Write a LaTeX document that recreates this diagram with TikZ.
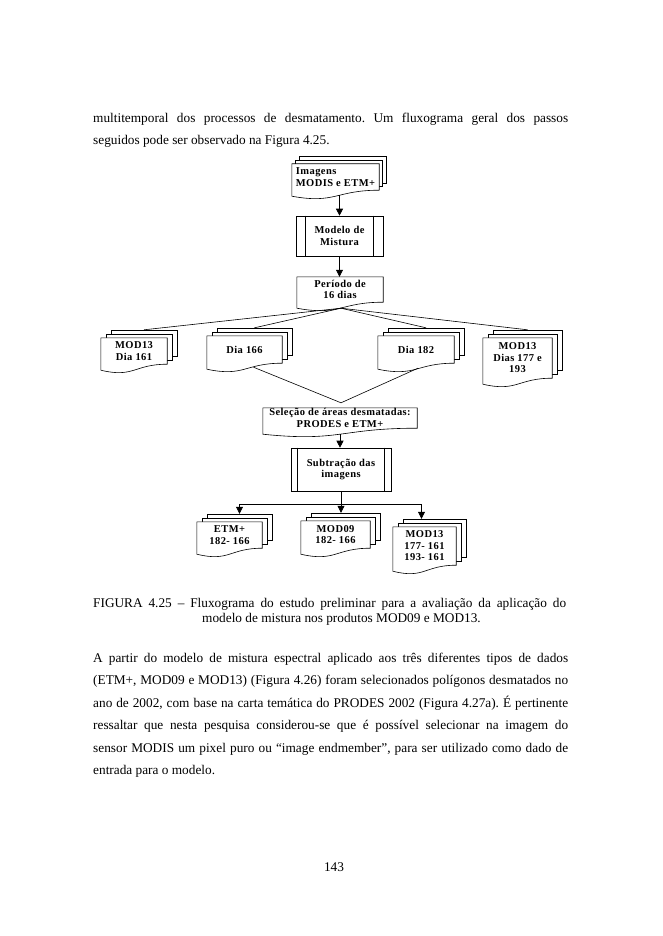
\documentclass[tikz,border=0pt]{standalone}
\usepackage{fontspec}
\setmainfont{Liberation Serif}
\newfontfamily\boxfont[LetterSpace=4]{Liberation Serif}
\usetikzlibrary{arrows.meta,calc,backgrounds}
\frenchspacing

\tikzset{
  docline/.style={draw=black, fill=white, line width=0.6pt},
  boxtext/.style={font=\boxfont\bfseries\fontsize{10.5}{11.5}\selectfont, align=center, inner sep=0pt},
  procbox/.style={boxtext, draw, line width=0.6pt},
  bodyline/.style={anchor=base west, inner sep=0pt, font=\fontsize{13.3}{15}\selectfont},
  conn/.style={line width=0.6pt},
}

% documento com base ondulada
\newcommand{\docfront}[1]{%
  \draw[docline] (#1.north west) -- (#1.north east) -- (#1.south east)
    .. controls (#1.south) and ($(#1.south)+(0,14)$) .. ($(#1.south west)+(0,6)$) -- cycle;}
% folhas de tras
\newcommand{\docback}[3]{%
  \draw[docline] ($(#1.north west)+(#2,-#3)$) rectangle ($(#1.south east)+(#2,-#3)$);}
\newcommand{\multidoc}[3]{%
  \docback{#1}{2*#2}{2*#3}
  \docback{#1}{#2}{#3}
  \docfront{#1}
  \coordinate (#1-top) at ($(#1.north)+(2*#2,-2*#3)$);}
% linhas laterais do processo
\newcommand{\procsides}[2]{%
  \draw[conn] ([xshift=#2]#1.north west) -- ([xshift=#2]#1.south west);
  \draw[conn] ([xshift=-#2]#1.north east) -- ([xshift=-#2]#1.south east);}

\begin{document}
\begin{tikzpicture}[x=1pt, y=-1pt, >={Triangle[width=7pt,length=7pt]}]
  \useasboundingbox (0,0) rectangle (662,936);

  % texto antes da figura
  \node[bodyline] (p1a) at (93,123) {\makebox[475pt][s]{multitemporal dos processos de desmatamento. Um fluxograma geral dos passos}};
  \node[bodyline] (p1b) at (93,145) {seguidos pode ser observado na Figura 4.25.};

  % caixas do fluxograma
  \node[boxtext, align=left, minimum width=87pt, minimum height=26pt] (img) at (335.5,177) {Imagens\\MODIS e ETM+};
  \node[procbox, minimum width=87pt, minimum height=40pt] (modelo) at (339.5,236) {Modelo de\\Mistura};
  \procsides{modelo}{10}
  \node[boxtext, minimum width=86pt, minimum height=25pt] (periodo) at (340,289.5) {Período de\\16 dias};

  \node[boxtext, minimum width=66pt, minimum height=26pt] (d161) at (134,351) {MOD13\\Dia 161};
  \node[boxtext, minimum width=75pt, minimum height=27pt] (d166) at (244.5,349.5) {Dia 166};
  \node[boxtext, minimum width=76pt, minimum height=27pt] (d182) at (416,349.5) {Dia 182};
  \node[boxtext, minimum width=69pt, minimum height=40pt] (d177) at (517.5,358) {MOD13\\Dias 177 e\\193};

  \node[boxtext, minimum width=154pt, minimum height=20pt] (sel) at (340,418) {Seleção de áreas desmatadas:\\PRODES e ETM+};
  \node[procbox, minimum width=100pt, minimum height=43pt] (sub) at (341,469.5) {Subtração das\\imagens};
  \procsides{sub}{7}

  \node[boxtext, minimum width=65pt, minimum height=26pt] (etm) at (229.5,535) {ETM+\\182- 166};
  \node[boxtext, minimum width=69pt, minimum height=27pt] (mod09) at (335.5,534.5) {MOD09\\182- 166};
  \node[boxtext, minimum width=63pt, minimum height=38pt] (mod13o) at (424.5,546) {MOD13\\177- 161\\193- 161};

  % formas de documento por tras do texto
  \begin{pgfonlayer}{background}
    \fill[white] (0,0) rectangle (662,936);
    \multidoc{img}{3.5}{3.5}
    \docfront{periodo}
    \multidoc{d161}{5}{4}
    \multidoc{d166}{5}{4}
    \multidoc{d182}{5}{4}
    \multidoc{d177}{5}{4}
    \docfront{sel}
    \multidoc{etm}{5}{4}
    \multidoc{mod09}{5}{4}
    \multidoc{mod13o}{5}{4}
  \end{pgfonlayer}

  % ligacoes
  \draw[conn,->] ($(img.south -| modelo.north)+(0,5)$) -- (modelo.north);
  \draw[conn,->] (modelo.south) -- (modelo.south |- periodo.north);
  \coordinate (fan) at ($(periodo.south)+(1,6)$);
  \foreach \d in {d161,d166,d182,d177}
    \draw[conn] (fan) -- (\d-top);
  \coordinate (selin) at ($(sel.north)+(1,-5)$);
  \draw[conn] ($(d166.south)+(9,4)$) -- (selin) -- ($(d182.south)+(2,5)$);
  \draw[conn,->] ($(sel.south)+(0,6)$) -- (sel.south |- sub.north);
  \coordinate (split) at ($(sub.south)+(0,13)$);
  \draw[conn] (sub.south) -- (split);
  \coordinate (etm-in) at ($(etm.north)+(10,-8)$);
  \coordinate (mod09-in) at ($(mod09.north)+(5.5,-8)$);
  \coordinate (mod13o-in) at ($(mod13o.north)+(-3,-8)$);
  \foreach \o in {etm-in,mod09-in,mod13o-in}
    \draw[conn,->] (split) -| (\o);

  % legenda
  \node[bodyline] (cap1) at (93,607.5) {\makebox[473pt][s]{FIGURA 4.25 – Fluxograma do estudo preliminar para a avaliação da aplicação do}};
  \node[bodyline] (cap2) at (202,622.5) {modelo de mistura nos produtos MOD09 e MOD13.};

  % texto depois da figura
  \foreach \linha [count=\i from 0] in {
      {A partir do modelo de mistura espectral aplicado aos três diferentes tipos de dados},
      {(ETM+, MOD09 e MOD13) (Figura 4.26) foram selecionados polígonos desmatados no},
      {ano de 2002, com base na carta temática do PRODES 2002 (Figura 4.27a). É pertinente},
      {ressaltar que nesta pesquisa considerou-se que é possível selecionar na imagem do},
      {sensor MODIS um pixel puro ou “image endmember”, para ser utilizado como dado de}}
    \node[bodyline] (p2-\i) at (93,662.5+22.4*\i) {\makebox[475pt][s]{\linha}};
  \node[bodyline] (p2-5) at (93,774.5) {entrada para o modelo.};

  \node[bodyline, anchor=base] (pagnum) at (334,871) {143};
\end{tikzpicture}
\end{document}
